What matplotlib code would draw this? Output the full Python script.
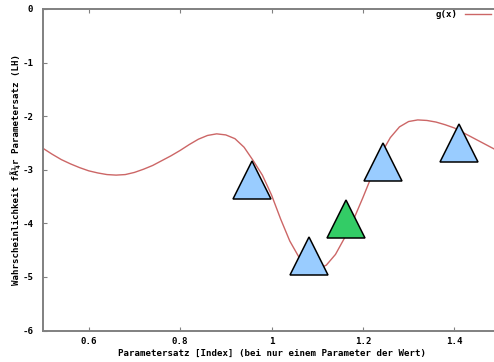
import numpy as np
import matplotlib
matplotlib.use("Agg")
import matplotlib.pyplot as plt
from matplotlib.font_manager import FontProperties

# curve g(x)
curve_x = [0.50, 0.52, 0.54, 0.56, 0.58, 0.60, 0.62, 0.64, 0.66, 0.68,
           0.70, 0.72, 0.74, 0.76, 0.78, 0.80, 0.82, 0.84, 0.86, 0.88,
           0.90, 0.92, 0.94, 0.96, 0.98, 1.00, 1.02, 1.04, 1.06, 1.08,
           1.10, 1.12, 1.14, 1.16, 1.18, 1.20, 1.22, 1.24, 1.26, 1.28,
           1.30, 1.32, 1.34, 1.36, 1.38, 1.40, 1.42, 1.44, 1.46, 1.48, 1.50]
curve_y = [-2.60, -2.71, -2.81, -2.89, -2.96, -3.02, -3.06, -3.09, -3.10, -3.09,
           -3.05, -2.99, -2.92, -2.83, -2.74, -2.64, -2.53, -2.43, -2.36, -2.33,
           -2.35, -2.42, -2.58, -2.83, -3.10, -3.47, -3.92, -4.33, -4.63, -4.81,
           -4.86, -4.78, -4.58, -4.27, -3.92, -3.52, -3.10, -2.70, -2.40, -2.20,
           -2.10, -2.07, -2.08, -2.11, -2.16, -2.22, -2.31, -2.40, -2.49, -2.58, -2.67]

# sampled parameter sets (blue) and the current one (green)
blue_x = [0.957, 1.081, 1.245, 1.411]
blue_y = [-3.20, -4.61, -2.85, -2.50]
green_x = [1.164]
green_y = [-3.91]

xticks = [0.6, 0.8, 1.0, 1.2, 1.4]
xtick_labels = ["0.6", "0.8", "1", "1.2", "1.4"]
yticks = [0, -1, -2, -3, -4, -5, -6]

font = {"family": "DejaVu Sans Mono", "weight": "bold", "size": 6.6}

W, H = 494, 362
fig = plt.figure(figsize=(W / 100, H / 100), dpi=100)
# right border of the plot sits outside the picture, as in the original
ax = fig.add_axes([43 / W, (H - 330.5) / H, (500 - 43) / W, (330.5 - 9) / H])

ax.plot(curve_x, curve_y, color="#cc6666", lw=1.0, label="g(x)", zorder=2)

ms = 38 * 72 / 100
ax.plot(blue_x, blue_y, ls="none", marker="^", ms=ms, mfc="#99ccff",
        mec="black", mew=1.1, zorder=3)
ax.plot(green_x, green_y, ls="none", marker="^", ms=ms, mfc="#33cc66",
        mec="black", mew=1.1, zorder=3)

ax.set_xlim(0.5, 1.5)
ax.set_ylim(-6, 0)
ax.set_xticks(xticks)
ax.set_xticklabels(xtick_labels)
ax.set_yticks(yticks)
ax.set_yticklabels([str(t) for t in yticks])
ax.tick_params(direction="in", length=3, width=0.8, color="#808080",
               top=True)
ax.tick_params(axis="x", pad=5)
ax.tick_params(axis="y", pad=7)
for lab in ax.get_xticklabels() + ax.get_yticklabels():
    lab.set_fontproperties(FontProperties(**font))

for side in ["left", "bottom", "top"]:
    ax.spines[side].set_color("#808080")
    ax.spines[side].set_linewidth(1.4)
ax.spines["right"].set_visible(False)

ax.set_xlabel("Parametersatz [Index] (bei nur einem Parameter der Wert)",
              fontdict=font, labelpad=2)
ax.set_ylabel("Wahrscheinlichkeit fÃ¼r Parametersatz (LH)",
              fontdict=font, labelpad=1)

ax.legend(loc="upper right", bbox_to_anchor=(491 / W, 1 - 10 / H),
          bbox_transform=fig.transFigure, frameon=False, markerfirst=False,
          borderaxespad=0, borderpad=0, handlelength=2.8,
          prop=FontProperties(**font))

fig.savefig("out.png", dpi=100)
